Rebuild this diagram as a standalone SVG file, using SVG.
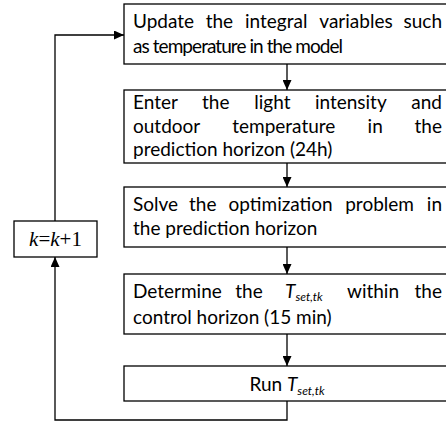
<svg xmlns="http://www.w3.org/2000/svg" width="446" height="421" viewBox="0 0 446 421">
<defs>
<marker id="ah" markerUnits="userSpaceOnUse" markerWidth="10" markerHeight="9" refX="10" refY="4.5" orient="auto">
<path d="M0,0 L10,4.5 L0,9 z" fill="#000"/>
</marker>
<style>
.box{fill:#fff;stroke:#000;stroke-width:1.3}
.t{font-family:Lato,"Liberation Sans",sans-serif;font-size:19px;fill:#000}
.m{text-anchor:middle}
.e{text-anchor:end}
.i{font-style:italic}
.sub{font-size:12px;font-style:italic}
.k{font-family:"Liberation Serif",serif;font-size:21px;fill:#000;text-anchor:middle}
.c{fill:none;stroke:#000;stroke-width:1.3}
</style>
</defs>
<rect width="446" height="421" fill="#fff"/>
<g id="connectors">
<path class="c" d="M287,64 V90" marker-end="url(#ah)"/>
<path class="c" d="M287,163 V187" marker-end="url(#ah)"/>
<path class="c" d="M287,247 V274" marker-end="url(#ah)"/>
<path class="c" d="M287,334 V366" marker-end="url(#ah)"/>
<path class="c" d="M287,401 V420 H55 V257" marker-end="url(#ah)"/>
<path class="c" d="M55,221 V35 H124" marker-end="url(#ah)"/>
</g>
<g id="n1">
<rect class="box" x="124" y="4" width="330" height="60"/>
<text class="t" y="28"><tspan x="133">Update</tspan><tspan class="m" x="219.4">the</tspan><tspan class="m" x="276.2">integral</tspan><tspan class="m" x="356">variables</tspan><tspan class="e" x="442">such</tspan></text>
<text class="t" x="133" y="53" textLength="210" lengthAdjust="spacing">as temperature  in the model</text>
</g>
<g id="n2">
<rect class="box" x="124" y="90" width="330" height="73"/>
<text class="t" y="109"><tspan x="133">Enter</tspan><tspan class="m" x="215.8">the</tspan><tspan class="m" x="272.4">light</tspan><tspan class="m" x="350.8">intensity</tspan><tspan class="e" x="442">and</tspan></text>
<text class="t" y="133"><tspan x="133">outdoor</tspan><tspan class="m" x="283.8">temperature</tspan><tspan class="m" x="375.2">in</tspan><tspan class="e" x="442">the</tspan></text>
<text class="t" x="133" y="156">prediction horizon (24h)</text>
</g>
<g id="n3">
<rect class="box" x="124" y="187" width="330" height="60"/>
<text class="t" y="211"><tspan x="133">Solve</tspan><tspan class="m" x="202.8">the</tspan><tspan class="m" x="280.6">optimization</tspan><tspan class="m" x="379.6">problem</tspan><tspan class="e" x="442">in</tspan></text>
<text class="t" x="133" y="235">the prediction horizon</text>
</g>
<g id="n4">
<rect class="box" x="124" y="274" width="330" height="60"/>
<text class="t" y="298"><tspan x="133">Determine</tspan><tspan class="m" x="249">the</tspan><tspan class="i" x="285">T</tspan><tspan class="sub" dy="3">set,tk</tspan><tspan class="m" x="373" dy="-3">within</tspan><tspan class="e" x="442">the</tspan></text>
<text class="t" x="133" y="324">control horizon (15 min)</text>
</g>
<g id="n5">
<rect class="box" x="124" y="366" width="330" height="35"/>
<text class="t m" x="287" y="391">Run <tspan class="i">T</tspan><tspan class="sub" dy="4">set,tk</tspan></text>
</g>
<g id="k">
<rect class="box" x="14" y="221" width="83" height="36"/>
<text class="k" x="55.5" y="246"><tspan class="i">k</tspan>=<tspan class="i">k</tspan>+1</text>
</g>
</svg>
